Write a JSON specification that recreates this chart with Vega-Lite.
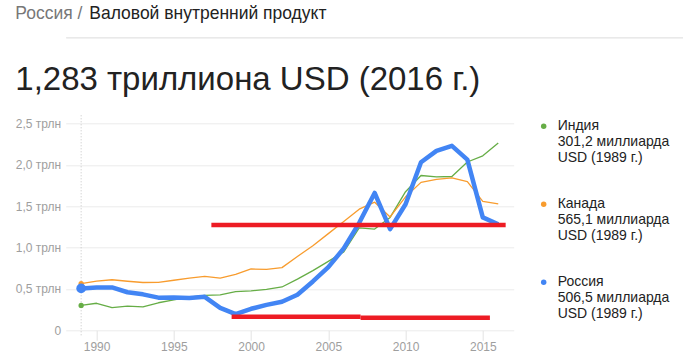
{
  "$schema": "https://vega.github.io/schema/vega-lite/v6.json",
  "background": "white",
  "padding": {"left": 14.7, "top": 4.3, "right": 0, "bottom": 0},
  "config": {
    "font": "Liberation Sans",
    "view": {"stroke": null},
    "title": {"fontWeight": "normal", "anchor": "start"}
  },
  "title": {"text": "Россия /", "color": "#777777", "fontSize": 17.5, "dx": 0, "offset": -17.5},
  "resolve": {
    "scale": {"fill": "independent", "stroke": "independent"},
    "legend": {"fill": "independent", "stroke": "independent"}
  },
  "datasets": {
    "gdp": [
      {"country": "Индия", "year": 1989, "value": 0.301},
      {"country": "Индия", "year": 1990, "value": 0.327},
      {"country": "Индия", "year": 1991, "value": 0.275},
      {"country": "Индия", "year": 1992, "value": 0.293},
      {"country": "Индия", "year": 1993, "value": 0.284},
      {"country": "Индия", "year": 1994, "value": 0.333},
      {"country": "Индия", "year": 1995, "value": 0.367},
      {"country": "Индия", "year": 1996, "value": 0.400},
      {"country": "Индия", "year": 1997, "value": 0.423},
      {"country": "Индия", "year": 1998, "value": 0.429},
      {"country": "Индия", "year": 1999, "value": 0.467},
      {"country": "Индия", "year": 2000, "value": 0.477},
      {"country": "Индия", "year": 2001, "value": 0.494},
      {"country": "Индия", "year": 2002, "value": 0.524},
      {"country": "Индия", "year": 2003, "value": 0.618},
      {"country": "Индия", "year": 2004, "value": 0.722},
      {"country": "Индия", "year": 2005, "value": 0.834},
      {"country": "Индия", "year": 2006, "value": 0.949},
      {"country": "Индия", "year": 2007, "value": 1.239},
      {"country": "Индия", "year": 2008, "value": 1.224},
      {"country": "Индия", "year": 2009, "value": 1.365},
      {"country": "Индия", "year": 2010, "value": 1.676},
      {"country": "Индия", "year": 2011, "value": 1.872},
      {"country": "Индия", "year": 2012, "value": 1.856},
      {"country": "Индия", "year": 2013, "value": 1.860},
      {"country": "Индия", "year": 2014, "value": 2.035},
      {"country": "Индия", "year": 2015, "value": 2.110},
      {"country": "Индия", "year": 2016, "value": 2.264},
      {"country": "Канада", "year": 1989, "value": 0.565},
      {"country": "Канада", "year": 1990, "value": 0.594},
      {"country": "Канада", "year": 1991, "value": 0.611},
      {"country": "Канада", "year": 1992, "value": 0.593},
      {"country": "Канада", "year": 1993, "value": 0.578},
      {"country": "Канада", "year": 1994, "value": 0.579},
      {"country": "Канада", "year": 1995, "value": 0.605},
      {"country": "Канада", "year": 1996, "value": 0.630},
      {"country": "Канада", "year": 1997, "value": 0.653},
      {"country": "Канада", "year": 1998, "value": 0.632},
      {"country": "Канада", "year": 1999, "value": 0.677},
      {"country": "Канада", "year": 2000, "value": 0.742},
      {"country": "Канада", "year": 2001, "value": 0.736},
      {"country": "Канада", "year": 2002, "value": 0.758},
      {"country": "Канада", "year": 2003, "value": 0.893},
      {"country": "Канада", "year": 2004, "value": 1.023},
      {"country": "Канада", "year": 2005, "value": 1.169},
      {"country": "Канада", "year": 2006, "value": 1.315},
      {"country": "Канада", "year": 2007, "value": 1.465},
      {"country": "Канада", "year": 2008, "value": 1.549},
      {"country": "Канада", "year": 2009, "value": 1.371},
      {"country": "Канада", "year": 2010, "value": 1.614},
      {"country": "Канада", "year": 2011, "value": 1.789},
      {"country": "Канада", "year": 2012, "value": 1.824},
      {"country": "Канада", "year": 2013, "value": 1.843},
      {"country": "Канада", "year": 2014, "value": 1.799},
      {"country": "Канада", "year": 2015, "value": 1.559},
      {"country": "Канада", "year": 2016, "value": 1.530},
      {"country": "Россия", "year": 1989, "value": 0.5065},
      {"country": "Россия", "year": 1990, "value": 0.517},
      {"country": "Россия", "year": 1991, "value": 0.518},
      {"country": "Россия", "year": 1992, "value": 0.460},
      {"country": "Россия", "year": 1993, "value": 0.435},
      {"country": "Россия", "year": 1994, "value": 0.395},
      {"country": "Россия", "year": 1995, "value": 0.396},
      {"country": "Россия", "year": 1996, "value": 0.392},
      {"country": "Россия", "year": 1997, "value": 0.405},
      {"country": "Россия", "year": 1998, "value": 0.271},
      {"country": "Россия", "year": 1999, "value": 0.196},
      {"country": "Россия", "year": 2000, "value": 0.260},
      {"country": "Россия", "year": 2001, "value": 0.307},
      {"country": "Россия", "year": 2002, "value": 0.345},
      {"country": "Россия", "year": 2003, "value": 0.430},
      {"country": "Россия", "year": 2004, "value": 0.591},
      {"country": "Россия", "year": 2005, "value": 0.764},
      {"country": "Россия", "year": 2006, "value": 0.990},
      {"country": "Россия", "year": 2007, "value": 1.300},
      {"country": "Россия", "year": 2008, "value": 1.661},
      {"country": "Россия", "year": 2009, "value": 1.223},
      {"country": "Россия", "year": 2010, "value": 1.525},
      {"country": "Россия", "year": 2011, "value": 2.032},
      {"country": "Россия", "year": 2012, "value": 2.170},
      {"country": "Россия", "year": 2013, "value": 2.231},
      {"country": "Россия", "year": 2014, "value": 2.064},
      {"country": "Россия", "year": 2015, "value": 1.366},
      {"country": "Россия", "year": 2016, "value": 1.283}
    ],
    "redlines": [
      {"from": 1997.43, "to": 2016.48, "level": 1.274},
      {"from": 1998.74, "to": 2007.09, "level": 0.165},
      {"from": 2007.09, "to": 2015.46, "level": 0.151}
    ]
  },
  "columns": 1,
  "spacing": 26,
  "concat": [
    {
      "width": 618,
      "height": 0.001,
      "view": {"stroke": "#e6e6e6", "strokeWidth": 1},
      "title": {"text": "Валовой внутренний продукт", "color": "#222222", "fontSize": 17.5, "dx": 23.6, "offset": 14.7},
      "data": {"values": []},
      "mark": "point"
    },
    {
      "width": 448,
      "height": 215,
      "title": {"text": "1,283 триллиона USD (2016 г.)", "color": "#222222", "fontSize": 33, "offset": 17.5, "dx": 0},
      "layer": [
        {
          "data": {"values": [{"year": 1989}]},
          "mark": {"type": "rule", "color": "#c4c4c4", "strokeDash": [1, 2], "strokeWidth": 1},
          "encoding": {
            "x": {"field": "year", "type": "quantitative"},
            "y": {"datum": 2.6},
            "y2": {"datum": -0.08}
          }
        },
        {
          "data": {"name": "gdp"},
          "transform": [{"filter": "datum.country != 'Россия'"}],
          "mark": {"type": "line", "strokeWidth": 1.3, "strokeJoin": "round"},
          "encoding": {
            "x": {
              "field": "year", "type": "quantitative",
              "scale": {"domain": [1988, 2017], "nice": false, "zero": false},
              "axis": {
                "values": [1990, 1995, 2000, 2005, 2010, 2015], "format": "d",
                "grid": false, "domain": false, "tickColor": "#e3e3e3", "tickSize": 10,
                "labelPadding": 1, "labelColor": "#9e9e9e", "labelFontSize": 12, "title": null
              }
            },
            "y": {
              "field": "value", "type": "quantitative",
              "scale": {"domain": [0, 2.6], "nice": false},
              "axis": {
                "values": [0, 0.5, 1, 1.5, 2, 2.5],
                "labelExpr": "datum.value == 0 ? '0' : replace(format(datum.value, '.1f'), '.', ',') + ' трлн'",
                "grid": true, "gridColor": "#ebebeb", "ticks": false, "domain": false,
                "labelPadding": 5, "labelColor": "#9e9e9e", "labelFontSize": 12, "title": null
              }
            },
            "stroke": {
              "field": "country", "type": "nominal",
              "scale": {"domain": ["Индия", "Канада", "Россия"], "range": ["#66ad46", "#f89c2e", "#4285f4"]},
              "legend": null
            }
          }
        },
        {
          "data": {"name": "gdp"},
          "transform": [{"filter": "datum.country == 'Россия'"}],
          "mark": {"type": "line", "strokeWidth": 4.5, "strokeJoin": "round"},
          "encoding": {
            "x": {"field": "year", "type": "quantitative"},
            "y": {"field": "value", "type": "quantitative"},
            "stroke": {"field": "country", "type": "nominal", "legend": null}
          }
        },
        {
          "data": {"name": "gdp"},
          "transform": [{"filter": "datum.year == 1989 && datum.country != 'Россия'"}],
          "mark": {"type": "point", "filled": true, "opacity": 1, "size": 28},
          "encoding": {
            "x": {"field": "year", "type": "quantitative"},
            "y": {"field": "value", "type": "quantitative"},
            "fill": {
              "field": "country", "type": "nominal",
              "scale": {"range": ["#66ad46", "#f89c2e", "#4285f4"]},
              "legend": {
                "title": null, "orient": "right", "offset": 19, "padding": 4,
                "symbolType": "circle", "symbolSize": 30, "labelOffset": 7,
                "labelFontSize": 14, "labelColor": "#222222", "rowPadding": 32, "labelLimit": 0,
                "labelExpr": "datum.label == 'Индия' ? ['Индия', '301,2 миллиарда', 'USD (1989 г.)'] : datum.label == 'Канада' ? ['Канада', '565,1 миллиарда', 'USD (1989 г.)'] : ['Россия', '506,5 миллиарда', 'USD (1989 г.)']"
              }
            }
          }
        },
        {
          "data": {"name": "gdp"},
          "transform": [{"filter": "datum.year == 1989 && datum.country == 'Россия'"}],
          "mark": {"type": "point", "filled": true, "opacity": 1, "size": 95},
          "encoding": {
            "x": {"field": "year", "type": "quantitative"},
            "y": {"field": "value", "type": "quantitative"},
            "fill": {"field": "country", "type": "nominal"}
          }
        },
        {
          "data": {"name": "redlines"},
          "mark": {"type": "rule", "color": "#ed1c24", "strokeWidth": 4.5, "strokeCap": "butt"},
          "encoding": {
            "x": {"field": "from", "type": "quantitative"},
            "x2": {"field": "to"},
            "y": {"field": "level", "type": "quantitative"}
          }
        }
      ]
    }
  ]
}
